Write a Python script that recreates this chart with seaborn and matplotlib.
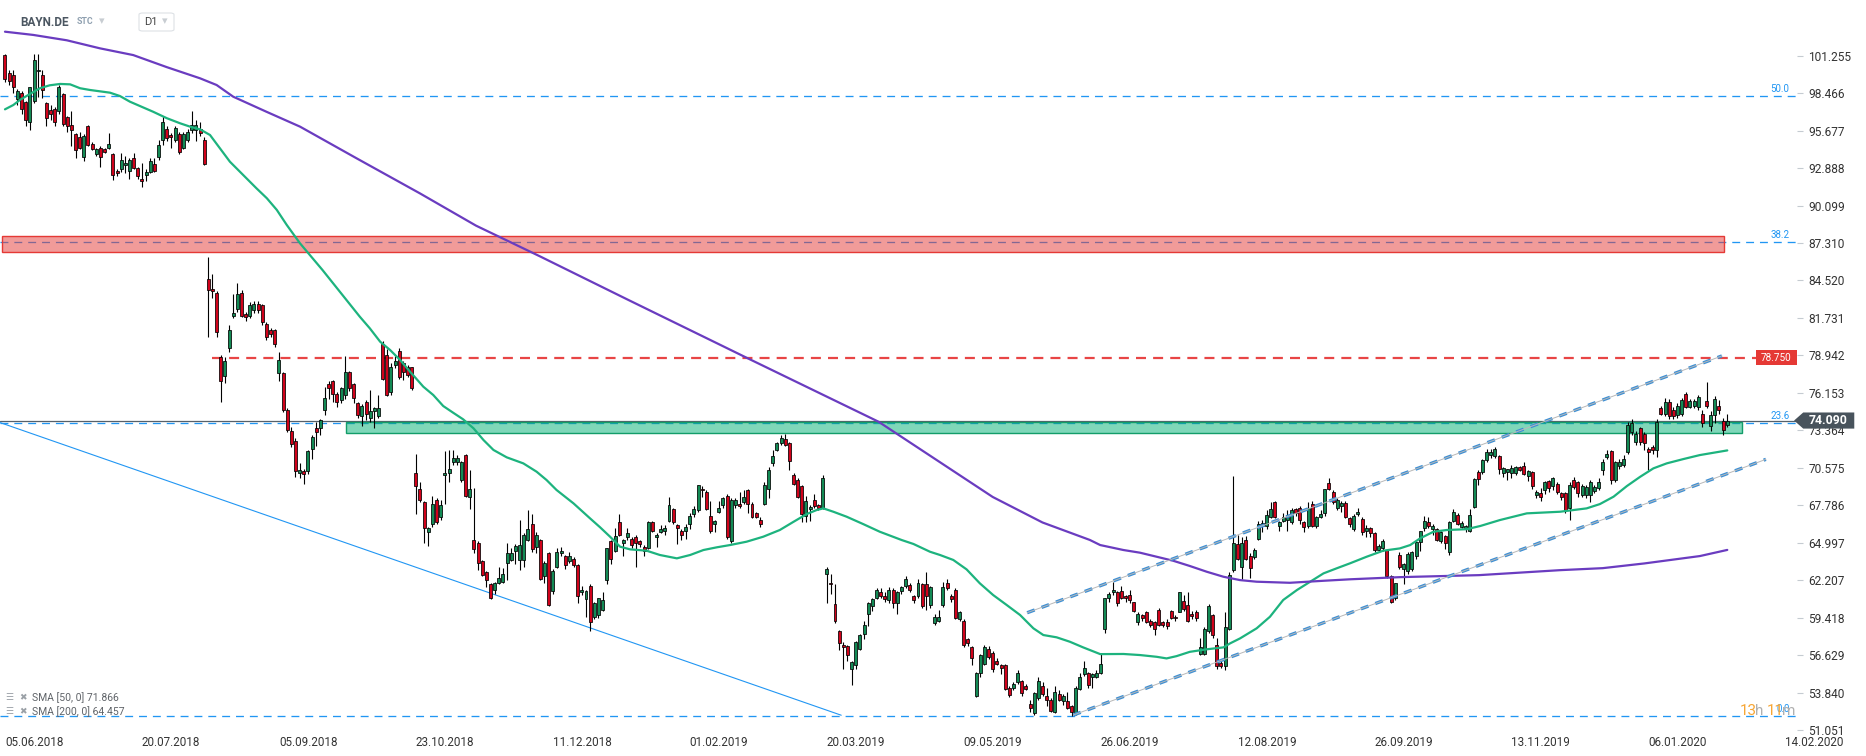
import numpy as np
import pandas as pd
import matplotlib
matplotlib.use("Agg")
import matplotlib.pyplot as plt
import seaborn as sns
from matplotlib.patches import Rectangle, FancyBboxPatch, Polygon

# ---------- data: daily candles (open, high, low, close) ----------
jun_aug_2018 = [
    (101.3, 101.4, 99.3, 99.5), (100.0, 100.2, 99.1, 99.4), (99.8, 100.2, 98.5, 98.9), (98.0, 98.8, 97.6, 98.6),
    (98.5, 98.6, 96.9, 97.3), (97.8, 97.9, 96.0, 96.5), (96.3, 98.95, 95.7, 98.9), (97.9, 101.4, 97.7, 100.9),
    (100.1, 101.4, 98.2, 100.2), (99.8, 100.2, 98.1, 98.7), (97.7, 97.8, 96.0, 96.6), (97.2, 97.6, 96.5, 96.9),
    (97.3, 97.4, 96.0, 96.3), (97.1, 99.1, 96.9, 98.9), (98.4, 98.5, 96.0, 96.2), (96.7, 96.8, 95.6, 96.0),
    (96.1, 97.1, 94.5, 95.7), (95.4, 95.5, 93.6, 94.2), (95.2, 95.6, 94.3, 94.4), (93.7, 95.4, 93.4, 95.3),
    (96.0, 96.1, 94.5, 94.6), (94.7, 94.8, 94.2, 94.3), (93.9, 94.4, 93.8, 94.3), (94.4, 94.5, 93.0, 93.7),
    (94.3, 94.4, 94.0, 94.1), (94.4, 95.5, 94.3, 94.7), (93.9, 94.0, 92.0, 92.4), (92.7, 92.8, 92.3, 92.5),
    (92.8, 94.0, 92.6, 93.5), (93.1, 93.8, 92.5, 93.3), (92.7, 93.6, 92.1, 93.5), (93.6, 94.0, 92.8, 92.9),
    (92.9, 93.0, 92.1, 92.3), (92.1, 93.3, 91.5, 91.9), (92.4, 92.8, 91.9, 92.6), (92.6, 93.6, 92.5, 93.4),
    (93.2, 93.6, 92.6, 92.7), (93.7, 95.0, 93.5, 94.6), (95.0, 96.8, 94.6, 96.3), (95.8, 96.0, 94.9, 95.1),
    (95.3, 95.5, 94.4, 95.2), (95.0, 96.0, 94.8, 95.9), (95.4, 95.6, 93.9, 94.1), (94.4, 95.6, 94.3, 95.4),
    (95.0, 95.8, 94.8, 95.6), (95.7, 97.1, 95.5, 96.1), (95.7, 96.5, 94.9, 96.1), (95.8, 96.3, 95.3, 95.5),
    (95.0, 95.2, 93.1, 93.2),
]
aug_oct_2018 = [
    (84.6, 86.3, 80.3, 83.8), (83.9, 85.0, 83.2, 83.7), (83.6, 83.7, 80.3, 80.7), (78.8, 79.0, 75.5, 77.0),
    (77.4, 78.8, 76.9, 78.5), (79.5, 81.2, 79.2, 80.8), (81.9, 83.5, 81.7, 82.1), (82.4, 84.3, 82.2, 83.5),
    (83.6, 83.8, 81.8, 81.9), (82.0, 82.2, 81.5, 81.8), (81.9, 82.9, 81.7, 82.7), (82.3, 83.0, 82.1, 82.8),
    (82.8, 83.0, 82.1, 82.3), (82.7, 82.8, 81.2, 81.4), (81.3, 81.4, 80.1, 80.3), (80.8, 81.0, 80.3, 80.5),
    (80.8, 80.9, 79.6, 79.8), (77.6, 79.2, 77.0, 78.6), (77.6, 77.7, 74.7, 74.9), (74.9, 75.0, 73.2, 73.4),
    (73.3, 73.6, 72.1, 72.35), (72.6, 72.8, 69.9, 70.3), (70.2, 70.9, 69.8, 70.4), (70.3, 70.5, 69.4, 70.1),
    (70.3, 71.9, 70.1, 71.8), (72.0, 73.0, 71.2, 72.9), (73.5, 74.0, 72.2, 73.2), (73.5, 74.2, 73.0, 74.1),
    (74.9, 76.6, 74.5, 75.8), (76.8, 77.0, 75.7, 76.5), (77.0, 77.1, 75.5, 76.1), (76.04, 76.2, 75.1, 75.5),
    (75.6, 76.6, 75.4, 76.5), (76.0, 78.9, 75.7, 77.7), (77.7, 77.8, 76.3, 76.5), (76.8, 76.9, 75.4, 75.8),
    (75.4, 75.5, 74.3, 74.5), (74.45, 75.3, 73.7, 75.2), (75.5, 75.6, 74.1, 74.6), (74.3, 76.4, 74.0, 74.8),
    (74.8, 75.1, 73.5, 75.0), (74.4, 76.0, 74.3, 75.0), (79.8, 80.0, 77.1, 77.2), (79.0, 79.4, 75.9, 76.0),
    (76.2, 78.4, 76.0, 78.1), (78.2, 78.9, 78.0, 78.5), (79.3, 79.5, 77.2, 77.3), (78.4, 78.5, 77.1, 77.7),
    (78.1, 78.2, 77.3, 77.5), (78.05, 78.1, 76.4, 76.5),
]
oct_2018_jan_2019 = [
    (70.2, 71.6, 67.1, 69.2), (69.0, 69.5, 68.0, 68.2), (68.05, 68.1, 65.0, 66.1), (65.8, 66.2, 64.75, 66.1),
    (66.4, 68.5, 66.2, 67.9), (68.2, 68.3, 66.4, 66.5), (66.9, 68.2, 66.7, 67.8), (70.0, 71.8, 67.9, 70.2),
    (70.2, 71.9, 69.5, 70.5), (71.0, 71.9, 70.8, 71.3), (71.0, 71.5, 70.8, 71.3), (69.7, 71.1, 69.5, 71.0),
    (71.5, 71.6, 68.4, 68.5), (68.4, 70.4, 67.5, 69.0), (65.2, 69.1, 64.2, 64.5), (65.0, 65.1, 62.95, 63.5),
    (63.6, 63.7, 62.5, 62.6), (62.8, 62.9, 61.7, 62.2), (61.9, 62.0, 60.8, 60.9), (61.5, 62.1, 61.2, 62.0),
    (62.0, 63.2, 61.9, 62.4), (62.1, 63.1, 62.0, 62.7), (63.5, 64.95, 62.2, 64.2), (63.7, 64.6, 63.6, 64.2),
    (64.4, 64.9, 63.4, 64.75), (63.7, 66.7, 62.95, 64.85), (63.7, 65.7, 63.2, 65.6), (65.2, 67.4, 65.1, 66.0),
    (66.4, 67.1, 64.3, 64.5), (64.65, 65.8, 64.2, 65.6), (65.2, 65.3, 62.2, 62.3), (62.5, 63.6, 62.0, 63.5),
    (64.2, 64.3, 60.3, 60.35), (61.4, 63.0, 61.2, 62.9), (63.2, 64.6, 63.1, 64.3), (64.2, 64.7, 64.0, 64.4),
    (64.0, 64.1, 63.0, 63.3), (63.65, 64.3, 63.5, 64.0), (63.75, 63.9, 63.2, 63.3), (63.3, 63.4, 60.5, 61.0),
    (61.3, 61.8, 61.1, 61.5), (60.8, 61.5, 59.5, 61.4), (61.8, 61.9, 58.4, 59.1), (59.5, 60.6, 59.3, 60.5),
    (59.6, 60.9, 59.4, 60.85), (60.0, 61.3, 59.9, 60.7), (62.2, 64.6, 61.9, 64.6), (65.1, 65.2, 63.4, 63.8),
    (64.4, 66.1, 64.3, 65.5), (66.5, 67.1, 65.5, 65.6),
]
jan_mar_2019 = [
    (65.0, 65.3, 64.0, 65.2), (65.4, 66.1, 65.2, 65.7), (65.3, 65.4, 64.6, 64.8), (65.4, 65.6, 63.2, 65.0),
    (65.1, 65.2, 64.7, 64.9), (64.7, 64.8, 64.0, 64.4), (64.6, 66.6, 64.5, 66.5), (66.5, 66.6, 65.8, 65.9),
    (65.4, 65.7, 64.7, 65.6), (65.8, 66.3, 65.7, 66.0), (65.9, 66.3, 65.6, 66.1), (66.6, 68.4, 66.5, 67.8),
    (67.5, 67.6, 66.4, 66.5), (66.3, 66.4, 64.9, 66.1), (65.9, 66.0, 65.2, 65.6), (65.9, 66.4, 65.3, 66.2),
    (66.4, 67.2, 66.0, 67.0), (67.1, 67.7, 66.9, 67.5), (67.4, 69.3, 67.3, 69.3), (69.0, 69.2, 68.4, 68.9),
    (68.8, 68.9, 67.4, 67.5), (67.0, 68.1, 65.7, 65.9), (66.4, 66.7, 65.8, 66.6), (67.3, 68.1, 67.2, 67.6),
    (67.8, 68.4, 67.6, 68.3), (68.5, 68.6, 65.3, 65.4), (65.1, 68.3, 65.0, 68.2), (67.8, 68.3, 67.6, 68.2),
    (67.9, 68.8, 67.6, 67.7), (68.0, 68.9, 67.9, 68.4), (68.9, 69.0, 67.2, 67.9), (67.9, 68.0, 66.8, 66.9),
    (67.2, 67.3, 66.8, 66.9), (66.7, 66.9, 66.2, 66.4), (67.9, 69.5, 67.8, 69.3), (68.97, 70.6, 68.3, 70.4),
    (70.95, 71.9, 70.7, 71.45), (71.9, 72.5, 71.8, 72.4), (72.4, 73.0, 72.3, 72.8), (72.7, 73.1, 72.2, 72.3),
    (72.4, 72.5, 70.4, 71.1), (70.0, 70.2, 69.3, 69.4), (69.7, 69.8, 68.3, 68.4), (69.2, 69.3, 66.5, 67.1),
    (67.0, 68.5, 66.5, 68.1), (67.5, 67.8, 66.6, 67.6), (68.2, 68.6, 67.6, 67.7), (67.8, 67.9, 67.4, 67.6),
    (67.6, 70.0, 67.5, 69.8),
]
mar_jun_2019 = [
    (62.7, 63.2, 60.5, 63.0), (62.0, 62.7, 61.2, 61.9), (60.4, 61.9, 59.0, 59.2), (58.4, 58.5, 57.0, 57.5),
    (57.4, 57.6, 55.6, 57.2), (57.3, 57.4, 56.2, 56.6), (55.6, 56.2, 54.4, 56.1), (55.9, 57.7, 55.6, 57.6),
    (57.05, 58.2, 57.0, 58.1), (58.2, 59.2, 57.8, 58.9), (59.7, 60.6, 58.8, 60.5), (60.3, 60.9, 59.9, 60.8),
    (60.9, 61.6, 60.8, 61.5), (61.3, 61.6, 60.9, 61.05), (61.0, 61.3, 60.6, 60.8), (60.7, 61.7, 60.5, 61.5),
    (61.5, 61.6, 60.1, 60.5), (60.5, 61.4, 59.7, 61.3), (61.4, 61.8, 61.2, 61.7), (61.8, 62.5, 61.6, 62.3),
    (61.85, 62.0, 61.3, 61.5), (61.0, 61.1, 60.5, 60.7), (61.0, 62.3, 60.9, 61.97), (61.9, 62.0, 60.1, 60.3),
    (61.9, 62.8, 60.0, 61.0), (60.35, 61.8, 60.1, 61.7), (59.0, 59.7, 58.9, 59.5), (59.2, 60.0, 59.1, 59.5),
    (60.35, 62.1, 60.2, 61.7), (61.97, 62.3, 61.5, 61.6), (61.0, 61.2, 60.6, 60.8), (61.5, 61.6, 59.3, 59.4),
    (59.3, 59.9, 59.2, 59.8), (59.2, 59.3, 57.2, 57.35), (57.8, 57.9, 57.3, 57.5), (57.2, 57.3, 55.9, 56.4),
    (53.6, 55.4, 53.5, 55.3), (55.3, 56.7, 55.0, 56.6), (56.0, 57.4, 55.9, 57.25), (57.1, 57.3, 56.3, 56.5),
    (56.8, 56.9, 55.4, 55.6), (56.2, 56.4, 55.9, 56.0), (55.9, 56.0, 55.2, 55.7), (55.9, 56.0, 54.0, 54.1),
    (54.15, 54.3, 53.5, 53.65), (54.15, 54.6, 54.0, 54.5), (54.6, 55.5, 54.5, 55.3), (54.7, 54.8, 53.6, 53.8),
    (54.3, 54.5, 54.0, 54.1), (53.0, 53.3, 52.4, 52.7), (52.3, 53.9, 52.2, 53.8), (53.4, 55.0, 53.3, 54.7),
    (54.35, 54.6, 53.6, 53.7), (53.6, 54.2, 52.8, 53.3), (53.3, 53.4, 52.4, 52.5), (52.4, 54.3, 52.3, 53.9),
    (53.7, 54.0, 53.2, 53.3), (53.2, 53.7, 52.9, 53.6), (53.2, 53.9, 52.6, 52.7), (52.8, 52.9, 52.1, 52.4),
    (52.3, 54.3, 52.2, 54.2), (54.1, 55.3, 54.0, 55.0), (55.2, 56.2, 55.1, 55.7), (55.3, 55.4, 54.2, 54.4),
    (55.0, 55.3, 54.2, 55.2), (55.0, 55.5, 54.9, 55.3), (55.3, 56.8, 55.2, 56.0),
]
jun_aug_2019 = [
    (58.6, 60.9, 58.3, 60.85), (60.85, 61.3, 60.6, 61.2), (61.3, 62.1, 61.1, 61.5), (61.35, 61.4, 60.3, 60.5),
    (61.4, 61.8, 60.8, 60.9), (61.0, 61.1, 60.6, 60.85), (61.1, 61.5, 60.5, 60.7), (60.55, 60.6, 59.8, 59.9),
    (59.1, 59.8, 58.9, 59.7), (59.6, 59.7, 59.2, 59.4), (59.85, 59.9, 59.0, 59.1), (59.2, 59.3, 58.7, 58.9),
    (59.1, 59.2, 58.1, 58.6), (60.0, 60.1, 58.8, 58.9), (59.07, 59.2, 58.7, 58.86), (59.1, 59.3, 58.6, 58.8),
    (59.9, 60.0, 59.3, 59.4), (59.5, 59.6, 59.2, 59.36), (59.86, 61.3, 59.8, 61.3), (60.65, 61.1, 59.9, 60.03),
    (60.35, 61.3, 59.1, 59.2), (59.7, 59.9, 59.3, 59.54), (59.86, 60.0, 59.2, 59.4), (56.7, 57.9, 56.6, 57.25),
    (56.7, 58.7, 56.6, 58.6), (58.4, 60.4, 58.3, 60.3), (59.6, 59.7, 57.9, 58.1), (57.4, 57.9, 55.6, 55.8),
    (56.06, 56.2, 55.7, 55.8), (55.8, 59.8, 55.5, 58.7), (58.6, 62.8, 58.5, 62.6), (62.96, 69.96, 62.8, 65.0),
    (64.9, 65.6, 63.7, 63.8), (63.2, 65.4, 62.3, 64.95), (65.2, 65.5, 63.7, 63.8), (64.0, 64.2, 62.4, 63.1),
    (63.9, 64.6, 63.8, 64.45), (65.3, 66.6, 65.2, 66.4), (66.24, 66.7, 65.8, 66.44), (66.24, 67.4, 66.0, 67.06),
    (66.9, 68.0, 66.8, 67.5), (68.0, 68.1, 66.8, 66.9), (66.24, 66.6, 65.9, 66.5), (66.6, 67.2, 66.5, 66.9),
    (66.7, 67.4, 65.9, 67.06), (66.5, 67.6, 66.4, 67.4), (67.5, 67.6, 67.0, 67.2), (67.6, 67.7, 66.4, 66.7),
    (66.56, 66.6, 65.8, 66.14), (66.24, 68.0, 66.1, 67.55), (67.9, 68.1, 66.2, 66.24), (66.24, 67.0, 66.1, 66.93),
    (66.93, 67.4, 66.8, 67.13), (67.18, 69.0, 67.0, 68.97), (69.46, 69.8, 68.9, 68.97), (68.8, 68.9, 67.9, 68.05),
    (67.55, 68.3, 67.4, 68.17), (67.73, 68.1, 67.3, 67.97), (67.97, 68.1, 66.8, 66.93),
]
aug_oct_2019 = [
    (66.8, 66.9, 66.2, 66.4), (65.99, 67.1, 65.9, 66.98), (67.1, 67.6, 67.0, 67.3), (66.76, 66.9, 65.6, 65.8),
    (65.86, 66.3, 65.4, 66.06), (66.06, 66.2, 65.4, 65.7), (65.74, 65.8, 64.3, 64.45), (64.45, 64.9, 64.3, 64.75),
    (64.6, 65.3, 64.4, 65.14), (64.45, 64.5, 62.4, 62.5), (62.5, 62.6, 60.5, 60.6), (60.85, 62.0, 60.7, 61.96),
    (64.05, 64.3, 63.0, 63.16), (63.0, 63.5, 61.9, 63.38), (62.9, 64.3, 62.7, 64.15), (63.0, 64.4, 62.9, 64.3),
    (64.0, 65.1, 63.8, 65.07), (65.07, 65.9, 64.4, 65.86), (66.06, 67.0, 65.9, 66.6), (66.56, 66.9, 66.1, 66.24),
    (66.0, 66.4, 65.6, 66.24), (65.99, 66.1, 65.1, 65.2), (65.12, 65.9, 65.0, 65.76), (65.5, 65.6, 64.5, 64.99),
    (64.3, 66.6, 64.1, 66.56), (66.6, 67.5, 66.5, 67.28), (67.05, 67.2, 66.3, 66.36), (66.18, 66.6, 66.1, 66.48),
    (66.12, 66.3, 65.8, 66.26), (65.86, 67.5, 65.8, 67.05), (67.67, 69.8, 67.6, 69.73), (70.23, 70.4, 69.3, 69.73),
    (70.23, 71.2, 70.1, 71.15), (71.15, 72.0, 71.0, 71.72), (71.52, 72.0, 71.3, 71.72), (71.45, 72.1, 71.3, 71.95),
    (71.47, 71.5, 70.1, 70.45), (70.16, 70.6, 69.9, 70.53), (70.28, 70.5, 69.7, 70.45), (70.2, 70.8, 69.8, 70.58),
    (70.2, 70.7, 70.0, 70.6), (70.6, 70.7, 70.3, 70.4), (70.7, 71.0, 70.0, 70.1), (69.98, 70.4, 69.6, 70.33),
    (70.23, 70.3, 69.0, 69.2), (68.57, 68.9, 68.3, 68.77), (68.67, 69.1, 68.1, 68.42), (68.92, 69.6, 68.6, 69.54),
    (69.6, 69.7, 68.8, 69.1), (69.24, 69.9, 68.9, 69.78), (69.4, 69.5, 68.6, 68.8),
]
oct_2019_jan_2020 = [
    (68.67, 68.8, 68.2, 68.37), (68.67, 68.8, 67.2, 67.43), (67.55, 69.5, 66.7, 69.3), (69.7, 69.9, 69.0, 69.16),
    (69.5, 69.6, 68.4, 68.67), (68.54, 69.4, 68.4, 69.24), (68.54, 69.3, 68.3, 69.16), (68.54, 69.7, 68.0, 69.5),
    (68.84, 69.3, 68.7, 69.16), (69.1, 69.8, 68.9, 69.5), (70.4, 71.2, 70.0, 71.0), (71.35, 71.9, 71.2, 71.6),
    (71.8, 71.9, 69.4, 69.7), (69.7, 71.1, 69.5, 71.0), (70.7, 71.2, 70.5, 71.0), (70.75, 71.5, 70.6, 71.2),
    (71.77, 74.0, 71.6, 73.75), (73.2, 74.2, 73.0, 73.9), (72.5, 73.3, 72.3, 73.1), (73.5, 73.6, 72.3, 72.5),
    (73.1, 73.2, 71.9, 72.4), (72.0, 72.1, 70.4, 71.77), (72.14, 72.3, 71.6, 71.9), (71.9, 74.2, 71.4, 74.0),
    (75.0, 75.2, 74.5, 74.6), (74.6, 75.8, 74.4, 75.5), (75.5, 75.7, 74.2, 74.4), (74.9, 75.1, 74.2, 74.4),
    (74.5, 75.4, 74.3, 75.2), (74.6, 75.8, 74.4, 75.6), (76.06, 76.2, 75.0, 75.1), (75.1, 75.7, 75.0, 75.54),
    (75.17, 75.7, 75.0, 75.54), (75.1, 76.0, 74.9, 75.86), (74.6, 74.9, 73.6, 73.9), (75.54, 76.98, 75.0, 75.17),
    (73.68, 74.8, 73.3, 74.5), (74.5, 75.9, 73.9, 75.7), (75.2, 75.6, 74.6, 74.9), (74.08, 74.3, 73.0, 73.4),
    (73.75, 74.6, 73.6, 74.09),
]

# moving averages, sampled along the drawn curves (bar index, value)
sma50_bar = [0, 2, 3.6, 6, 8.4, 10.8, 13.3, 15.7, 18.1, 20.5, 22.9, 25.3, 27.7, 30.1, 32.5, 35.7, 39, 42.2,
             44.6, 47, 49.4, 51.8, 54.2, 57.4, 60.6, 63.1, 65.5, 67.9, 71.1, 76.5, 82.3, 85.5, 87.9, 90.4,
             92.8, 95.2, 97.6, 100.8, 103.2, 105.6, 108, 110.4, 112.9, 115.3, 117.7, 120.9, 124.9, 128.1,
             130.5, 132.9, 137, 141, 143.4, 145.8, 148.2, 150.6, 154.6, 157.8, 161.9, 165.1, 168.3, 171.5,
             174.7, 178.7, 182.7, 186.7, 190, 193.2, 195.6, 197.2, 199.6, 202.8, 206.8, 210.8, 216.1, 218.9,
             222.9, 225.3, 228.5, 231.7, 234.9, 238.1, 241.4, 244.6, 247.8, 250.2, 253.4, 256.6, 259.8, 263.9,
             269.5, 273.5, 277.5, 279.9, 282.3, 285.5, 289.6, 293.6, 295.2, 297.6, 301.6, 304.8, 308, 311.3,
             314.5, 317.7, 320.9, 324.1, 328.1, 332.1, 336.1, 338.6, 341, 344.2, 347.4, 352.2, 355.5, 360.2,
             366.7, 374.7, 381.1, 384.3, 387.6, 390.8, 394, 397.2, 400.4, 404.4, 408.4, 415]
sma50_val = [97.26, 97.58, 97.96, 98.4, 98.83, 99.05, 99.15, 99.12, 98.83, 98.7, 98.6, 98.5, 98.25, 97.83,
             97.51, 97.08, 96.6, 96.22, 95.97, 95.77, 95.35, 94.36, 93.36, 92.37, 91.38, 90.64, 89.77, 88.65,
             87.28, 85.3, 83.06, 81.82, 80.96, 79.96, 79.34, 78.6, 77.73, 76.61, 75.99, 75.17, 74.67, 74.18,
             73.51, 72.64, 71.9, 71.35, 70.9, 70.28, 69.66, 68.92, 67.92, 66.8, 66.14, 65.44, 64.7, 64.5,
             64.4, 64.08, 63.83, 64.08, 64.45, 64.65, 64.82, 65.07, 65.44, 65.94, 66.55, 67.13, 67.43, 67.55,
             67.3, 66.93, 66.38, 65.81, 65.19, 64.9, 64.32, 64.08, 63.71, 63.01, 61.97, 61.1, 60.35, 59.61,
             58.62, 58.12, 57.95, 57.62, 57.2, 56.7, 56.71, 56.63, 56.5, 56.38, 56.55, 56.87, 57.06, 57.2,
             57.5, 57.87, 58.62, 59.48, 60.73, 61.47, 62.09, 62.71, 63.09, 63.46, 63.95, 64.4, 64.57, 64.82,
             65.32, 65.81, 65.94, 66.0, 66.24, 66.68, 67.18, 67.3, 67.55, 67.87, 68.42, 69.21, 69.9, 70.53,
             70.9, 71.22, 71.52, 71.866]
sma200_bar = [0, 6.8, 14.9, 22.9, 30.9, 39, 47, 51, 55, 63, 71.1, 84.8, 100, 113.5, 129, 150, 178.8, 210.5,
              238, 250, 261.4, 263.9, 269.5, 273.5, 277.5, 281.5, 285.5, 289.6, 293.6, 297.6, 301.6, 309.6,
              317.7, 324.1, 336.1, 355.2, 374.7, 385, 395, 408.4, 415]
sma200_val = [103.04, 102.8, 102.4, 101.8, 101.3, 100.4, 99.57, 99.07, 98.2, 97.08, 95.97, 93.6, 91.0, 88.6,
              86.3, 83.1, 78.75, 74.0, 68.4, 66.5, 65.2, 64.82, 64.45, 64.25, 63.95, 63.65, 63.26, 62.83,
              62.46, 62.21, 62.09, 62.01, 62.16, 62.27, 62.43, 62.58, 62.95, 63.1, 63.45, 64.0, 64.457]

date_labels = ["05.06.2018", "20.07.2018", "05.09.2018", "23.10.2018", "11.12.2018", "01.02.2019",
               "20.03.2019", "09.05.2019", "26.06.2019", "12.08.2019", "26.09.2019", "13.11.2019",
               "06.01.2020", "14.02.2020"]
bars_per_label = 33
price_ticks = [101.255, 98.466, 95.677, 92.888, 90.099, 87.310, 84.520, 81.731, 78.942, 76.153, 73.364,
               70.575, 67.786, 64.997, 62.207, 59.418, 56.629, 53.840, 51.051]

fib_names = ["0.0", "23.6", "38.2", "50.0"]
fib_prices = [52.10, 73.90, 87.38, 98.28]
resistance = 78.75
last_price = 74.09
red_zone = [86.66, 87.85]
green_zone = [73.14, 74.00]
trend_bars = [-1.2, 201.5]
trend_prices = [73.94, 52.15]
channel_bars = [[246.3, 413.7], [257.4, 424.3]]
channel_prices = [[59.78, 78.9], [52.16, 71.2]]

# ---------- figure ----------
sns.set_style("white")
plt.rcParams['font.family'] = ['Roboto', 'DejaVu Sans']

W, H = 1866, 756
fig = plt.figure(figsize=(W / 100, H / 100), dpi=100)
ax = fig.add_axes([0, 26 / H, 1797 / W, 730 / H])
ax.set_xlim(-1.2, 431.8)
ax.set_ylim(51.05, 105.4)


def fx(px):
    return px / W


def fy(py):
    return 1 - py / H


df = pd.DataFrame(jun_aug_2018 + aug_oct_2018 + oct_2018_jan_2019 + jan_mar_2019 + mar_jun_2019
                  + jun_aug_2019 + aug_oct_2019 + oct_2019_jan_2020,
                  columns=['open', 'high', 'low', 'close'])
df['bar'] = np.arange(len(df))

# fibonacci levels + current price
for p in fib_prices:
    ax.plot([-1.2, 431.8], [p, p], color='#2196f3', lw=0.95, dashes=(6, 4.5), zorder=1)
for name, p in zip(fib_names, fib_prices):
    ax.text(430.0, p + 0.15, name, ha='right', va='bottom', color='#2196f3', fontsize=7, zorder=9)
ax.plot([-1.2, 431.2], [last_price, last_price], color='#56606a', lw=0.9, zorder=1.5)

# zones
ax.add_patch(Rectangle((-0.7, red_zone[0]), 414.9, red_zone[1] - red_zone[0],
                       fc='#e53935', alpha=0.5, ec='none', zorder=2))
ax.add_patch(Rectangle((-0.7, red_zone[0]), 414.9, red_zone[1] - red_zone[0],
                       fill=False, ec='#e53935', lw=1.0, zorder=2))
ax.add_patch(Rectangle((82.2, green_zone[0]), 336.3, green_zone[1] - green_zone[0],
                       fc='#00b074', alpha=0.5, ec='none', zorder=2))
ax.add_patch(Rectangle((82.2, green_zone[0]), 336.3, green_zone[1] - green_zone[0],
                       fill=False, ec='#139d69', lw=1.0, zorder=2))

# trend lines
ax.plot(trend_bars, trend_prices, color='#2196f3', lw=0.8, zorder=2)
ax.plot([50, 421.9], [resistance, resistance], color='#e84545', lw=1.6, dashes=(4.5, 3.2), zorder=3)

# candles
up = df['close'] >= df['open']
colors = np.where(up, '#138a55', '#d0021b')
ax.vlines(df['bar'], df['low'], df['high'], color='black', lw=0.8, zorder=4)
ax.bar(df['bar'], (df['close'] - df['open']).abs().clip(lower=0.12),
       bottom=np.minimum(df['open'], df['close']), width=0.72, color=colors,
       edgecolor='black', linewidth=0.55, zorder=5)

# moving averages
sns.lineplot(x=sma50_bar, y=sma50_val, ax=ax, color='#1db37e', lw=1.6, zorder=6)
sns.lineplot(x=sma200_bar, y=sma200_val, ax=ax, color='#6a3cc0', lw=1.6, zorder=6)

# channel
for bars, prices in zip(channel_bars, channel_prices):
    ax.plot(bars, prices, color='#3d8fd4', lw=2.4, dashes=(2.4, 2.2), zorder=7)
    ax.plot(bars, prices, color='#b8b8b8', lw=0.7, zorder=7.5)

# labels on the price axis
ax.add_patch(Rectangle((421.9, resistance - 0.56), 9.9, 1.12, fc='#e53935', ec='none', zorder=8, clip_on=False))
ax.text(426.85, resistance, f"{resistance:.3f}", color='white', fontsize=7.2, ha='center', va='center', zorder=9)
ax.add_patch(Polygon([(431.1, last_price), (433.3, last_price + 0.6), (445.6, last_price + 0.6),
                      (445.6, last_price - 0.6), (433.3, last_price - 0.6)],
                     closed=True, fc='#48535c', ec='none', zorder=10, clip_on=False))
ax.text(439.3, last_price, f"{last_price:.3f}", color='white', fontsize=8.8, fontweight='bold',
        ha='center', va='center', zorder=11, clip_on=False)

# axes
ax.yaxis.tick_right()
ax.set_yticks(price_ticks)
ax.set_yticklabels([f"{v:.3f}" for v in price_ticks])
ax.tick_params(axis='y', length=4, width=0.8, color='#c5cbd1', pad=4, labelsize=8.6, labelcolor='#333333')
ax.set_xticks(np.arange(len(date_labels)) * bars_per_label)
ax.set_xticklabels(date_labels, ha='left')
ax.tick_params(axis='x', length=3, width=0.8, color='#c5cbd1', pad=1.5, labelsize=8.4, labelcolor='#333333')
for s in ax.spines.values():
    s.set_visible(False)
ax.grid(False)
ax.set_xlabel('')
ax.set_ylabel('')

# header
fig.text(fx(20), fy(22), "BAYN.DE", fontsize=8.5, fontweight='bold', color='#4b5661', va='center')
fig.text(fx(77), fy(22), "STC", fontsize=6.3, fontweight='bold', color='#8fa0b0', va='center')
fig.text(fx(99), fy(21), "▾", fontsize=8, color='#c8cdd2', va='center')
fig.patches.append(FancyBboxPatch((fx(139), fy(31)), fx(35), 18 / H, boxstyle="round,pad=0,rounding_size=0.002",
                                  transform=fig.transFigure, fc='white', ec='#dde1e5', lw=0.8))
fig.text(fx(144), fy(22), "D1", fontsize=8, color='#444444', va='center')
fig.text(fx(162), fy(21), "▾", fontsize=8, color='#c8cdd2', va='center')

# indicator legend
for yy, txt in [(698, "SMA [50, 0] 71.866"), (712, "SMA [200, 0] 64.457")]:
    fig.text(fx(5), fy(yy), "☰", fontsize=6.5, color='#9aa0a6', va='center')
    fig.text(fx(19), fy(yy), "✖", fontsize=6.5, color='#9aa0a6', va='center')
    fig.text(fx(32), fy(yy), txt, fontsize=7.5, color='#5f6368', va='center')

# countdown
for xx, txt, col in [(1740, "13", '#f7a635'), (1755, "h", '#b0b0b0'), (1767, "11", '#f7a635'), (1782, "m", '#b0b0b0')]:
    fig.text(fx(xx), fy(711), txt, fontsize=11, color=col, va='center')

fig.savefig('out.png', dpi=100)
